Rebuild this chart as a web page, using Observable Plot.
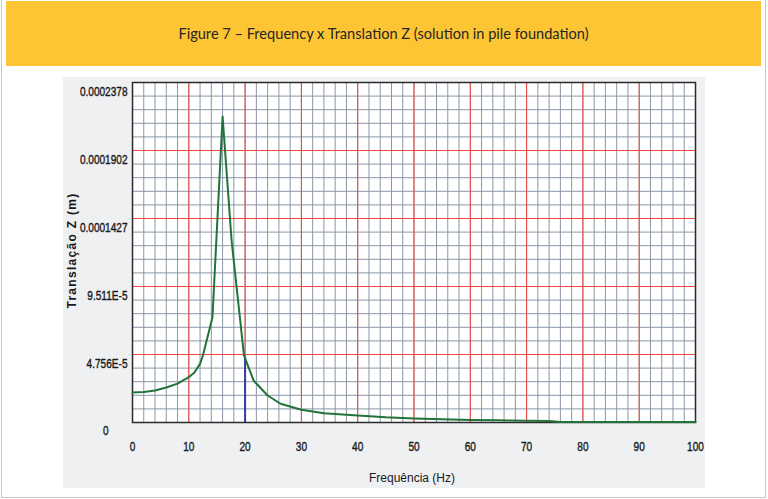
<!DOCTYPE html>
<html>
<head>
<meta charset="utf-8">
<script src="https://cdn.jsdelivr.net/npm/d3@7"></script>
<script src="https://cdn.jsdelivr.net/npm/@observablehq/plot@0.6"></script>
<style>
  html, body { margin: 0; padding: 0; background: #fff; }
  #page { position: relative; width: 768px; height: 499px; overflow: hidden; font-family: "Liberation Sans", Arial, sans-serif; }
  #border { position: absolute; left: 1px; top: 0; width: 763px; height: 497px; border: 1px solid #c6c6c6; border-top: none; }
  #banner { position: absolute; left: 6px; top: 1px; width: 755px; height: 65px; background: #fdc533;
            display: flex; align-items: center; justify-content: center;
            font-family: Lato, "Open Sans", sans-serif; font-size: 14.6px; color: #262626; }
  #panel { position: absolute; left: 63px; top: 77px; width: 642px; height: 411px; background: #eef0f2; }
  #chart { position: absolute; left: 0; top: 0; }
</style>
</head>
<body>
<div id="page">
  <div id="border"></div>
  <div id="banner">Figure 7 – Frequency x Translation Z (solution in pile foundation)</div>
  <div id="panel"></div>
  <div id="chart"></div>
</div>
<script>
// Frequency response: vertical translation of the pile cap vs. excitation frequency
const freqHz = [0, 2, 4, 6, 8, 10, 11, 12, 12.5, 14.2, 16, 17.6, 19.8, 21.5, 24, 26.3, 30, 34, 40, 45, 50, 55, 60, 65, 70, 74, 76, 80, 90, 100];
const translZ = [2.10e-5, 2.14e-5, 2.24e-5, 2.45e-5, 2.72e-5, 3.17e-5, 3.5e-5, 4.1e-5, 4.69e-5, 7.34e-5,
                 2.14e-4, 1.273e-4, 4.69e-5, 2.94e-5, 1.89e-5, 1.31e-5, 8.9e-6, 6.5e-6, 4.9e-6, 3.6e-6,
                 2.8e-6, 2.2e-6, 1.7e-6, 1.5e-6, 1.3e-6, 1.0e-6, 4e-7, 4e-7, 4e-7, 4e-7];

// Selected frequency marker
const cursorFreq = [20];
const cursorValue = [4.5e-5];

// Axis ticks
const xTicks = [0, 10, 20, 30, 40, 50, 60, 70, 80, 90, 100];
const yMax = 0.0002378;
const yTicks = [0.0002378, 0.0001902, 0.0001427, 9.511e-5, 4.756e-5];
const yTickLabels = ["0.0002378", "0.0001902", "0.0001427", "9.511E-5", "4.756E-5"];
const xTitle = "Frequência (Hz)";
const yTitle = "Translação Z (m)";

const data = freqHz.map((f, i) => ({f, z: translZ[i]}));

// Grid: minor lines every 2 Hz / every fifth of a major step, major lines every 10 Hz / yMax/5
const xMinor = d3.range(0, 101, 2);
const xMajor = d3.range(0, 101, 10);
const yMinor = d3.range(0, 26).map(i => i * yMax / 25);
const yMajor = d3.range(0, 6).map(i => i * yMax / 5);

const chart = Plot.plot({
  width: 768,
  height: 499,
  marginLeft: 132,
  marginRight: 73,
  marginTop: 82,
  marginBottom: 77,
  style: {background: "transparent", fontFamily: "'Liberation Sans', Arial, sans-serif", fontSize: "12px", color: "#1a1a1a"},
  x: {domain: [0, 100]},
  y: {domain: [0, yMax]},
  marks: [
    Plot.frame({fill: "white", stroke: null}),
    Plot.ruleX(xMinor, {stroke: "#8a97a8", strokeWidth: 1}),
    Plot.ruleY(yMinor, {stroke: "#8a97a8", strokeWidth: 1}),
    Plot.ruleX(xMajor, {stroke: "#f2453d", strokeWidth: 1}),
    Plot.ruleY(yMajor, {stroke: "#f2453d", strokeWidth: 1}),
    Plot.frame({stroke: "#2a2a2a", strokeWidth: 1.5}),
    Plot.ruleX(cursorFreq, {y1: 0, y2: cursorValue, stroke: "#2a3cae", strokeWidth: 2}),
    Plot.line(data, {x: "f", y: "z", stroke: "#21733a", strokeWidth: 2}),
    Plot.axisX({ticks: xTicks, tickSize: 0, tickPadding: 19, tickFormat: d => String(d), label: null}),
    Plot.axisY({ticks: yTicks, tickSize: 0, tickPadding: 5, dy: 9, tickFormat: (d, i) => yTickLabels[i], label: null}),
    Plot.axisY({ticks: [0], tickSize: 0, tickPadding: 24, dy: 8, tickFormat: () => "0", label: null}),
    Plot.text([xTitle], {text: d => d, frameAnchor: "bottom", dy: 59, dx: -2, fontSize: 12, fill: "#1a1a1a"}),
    Plot.text([yTitle], {text: d => d, frameAnchor: "left", textAnchor: "middle", rotate: -90, dx: -60, dy: -2,
                         fontSize: 12, fontWeight: "bold", fill: "#1a1a1a"})
  ]
});

document.getElementById("chart").appendChild(chart);

// Condensed, slightly tall, medium-weight tick labels
d3.select(chart).selectAll('g[aria-label$="tick label"] text').each(function() {
  const t = this.getAttribute("transform") || "";
  this.setAttribute("transform", t + " scale(0.84,1.1)");
  this.setAttribute("stroke", "#1a1a1a");
  this.setAttribute("stroke-width", "0.35");
});
d3.select(chart).selectAll("text").filter(function() { return this.textContent === yTitle; })
  .attr("letter-spacing", "1.3px");
</script>
</body>
</html>
